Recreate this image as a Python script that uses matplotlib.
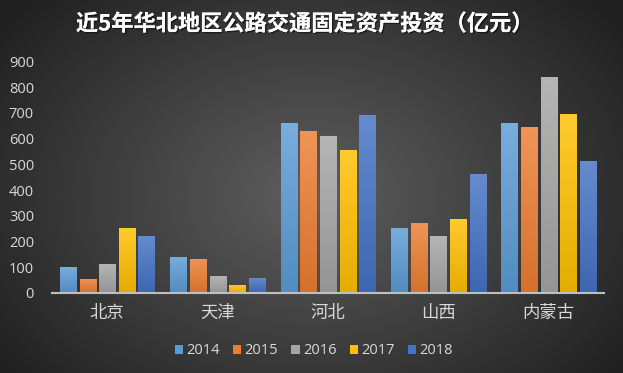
import numpy as np
import matplotlib
matplotlib.use("Agg")
import matplotlib.pyplot as plt
from matplotlib.colors import to_rgb
from matplotlib.patches import Patch
import matplotlib.patheffects as pe

plt.rcParams['font.family'] = ['Noto Sans CJK SC', 'DejaVu Sans']

regions = ['北京', '天津', '河北', '山西', '内蒙古']
years = ['2014', '2015', '2016', '2017', '2018']
v2014 = [102, 141, 661, 253, 661]
v2015 = [56, 134, 630, 273, 645]
v2016 = [114, 67, 611, 222, 840]
v2017 = [254, 32, 557, 289, 697]
v2018 = [222, 59, 693, 463, 514]
series = [v2014, v2015, v2016, v2017, v2018]
colors = ['#5B9BD5', '#ED7D31', '#A5A5A5', '#FFC000', '#4472C4']
yticks = [0, 100, 200, 300, 400, 500, 600, 700, 800, 900]

W, H = 623, 373
fig = plt.figure(figsize=(W / 100, H / 100), dpi=100)

# background radial gradient
bg = fig.add_axes([0, 0, 1, 1], zorder=-10)
yy, xx = np.mgrid[0:H, 0:W]
cx, cy = W * 0.5, H * 0.52
r = np.sqrt(((xx - cx) / (W * 0.62)) ** 2 + ((yy - cy) / (H * 0.75)) ** 2)
r = np.clip(r, 0, 1)
inner = np.array([0.37, 0.37, 0.37])
outer = np.array([0.13, 0.13, 0.13])
img = inner[None, None, :] * (1 - r[..., None]) + outer[None, None, :] * r[..., None]
bg.imshow(img, aspect='auto', extent=[0, 1, 0, 1], origin='upper')
bg.axis('off')

ax = fig.add_axes([52 / W, 1 - 293 / H, (604 - 52) / W, (293 - 61.5) / H])
ax.set_facecolor('none')
x = np.arange(len(regions))
pitch = 0.178
bw = 0.145
for i, (vals, c) in enumerate(zip(series, colors)):
    bars = ax.bar(x + (i - 2) * pitch, vals, width=bw, color=c, label=years[i], zorder=2)
    base = np.array(to_rgb(c))
    top = base + (1 - base) * 0.18
    bot = base * 0.9
    grad = np.linspace(0, 1, 64)[:, None, None]
    gimg = top[None, None, :] * (1 - grad) + bot[None, None, :] * grad
    for b in bars:
        bx, by = b.get_x(), b.get_y()
        w, h = b.get_width(), b.get_height()
        im = ax.imshow(gimg, aspect='auto', extent=[bx, bx + w, by, by + h],
                       origin='upper', zorder=3)
        im.set_clip_path(b)

ax.set_xlim(-0.5, len(regions) - 0.5)
ax.set_ylim(0, 900)
ax.set_yticks(yticks)
ax.set_xticks(x)
ax.set_xticklabels(regions, fontsize=12.5, color='#d9d9d9', fontweight='light')
for lab in ax.get_yticklabels():
    lab.set_family(['Open Sans', 'DejaVu Sans'])
ax.tick_params(axis='y', length=0, pad=13, labelsize=10.5, labelcolor='#d9d9d9')
ax.tick_params(axis='x', length=0, pad=8)
for s in ['top', 'right', 'left']:
    ax.spines[s].set_visible(False)
ax.spines['bottom'].set_color('#bfbfbf')
ax.spines['bottom'].set_linewidth(1.5)
ax.spines['bottom'].set_zorder(5)

handles = [Patch(facecolor=c, edgecolor='none') for c in colors]
leg = fig.legend(handles, years, loc='center', bbox_to_anchor=(314 / W, 1 - 351 / H),
                 ncol=5, frameon=False, handlelength=0.55, handleheight=0.55,
                 handletextpad=0.25, columnspacing=0.9,
                 prop={'family': ['Open Sans', 'DejaVu Sans'], 'size': 10.5})
for t in leg.get_texts():
    t.set_color('#d9d9d9')

fig.text(305 / W, 1 - 24 / H, '近5年华北地区公路交通固定资产投资（亿元）',
         ha='center', va='center', fontsize=16, fontweight='bold', color='white',
         path_effects=[pe.withSimplePatchShadow(offset=(1, -1), shadow_rgbFace='black', alpha=0.5),
                       pe.Normal()])

fig.savefig('out.png', dpi=100)
